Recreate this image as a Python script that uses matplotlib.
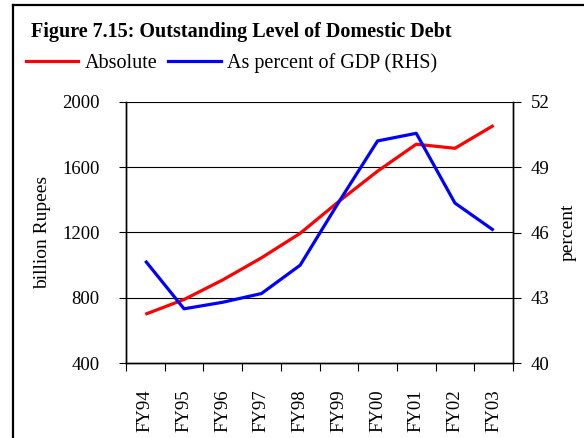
import matplotlib.pyplot as plt
import numpy as np
from matplotlib.lines import Line2D

years = ['FY94', 'FY95', 'FY96', 'FY97', 'FY98',
         'FY99', 'FY00', 'FY01', 'FY02', 'FY03']
absolute = [700, 790, 910, 1045, 1195, 1390, 1575, 1740, 1715, 1855]
pct_gdp = [44.7, 42.5, 42.8, 43.2, 44.5, 47.4, 50.2, 50.55, 47.35, 46.1]
left_ticks = [400, 800, 1200, 1600, 2000]
right_ticks = [40, 43, 46, 49, 52]

plt.rcParams['font.family'] = ['Liberation Serif', 'DejaVu Serif']

W, H = 584, 438
fig = plt.figure(figsize=(W / 100, H / 100), dpi=100)
ax = fig.add_axes([126 / W, 1 - 363.3 / H, 387 / W, 261.6 / H])
ax2 = ax.twinx()

x = np.arange(len(years)) + 0.5
ax.plot(x, absolute, color='#ff0000', lw=2.3, solid_capstyle='butt',
        label='Absolute')
ax2.plot(x, pct_gdp, color='#0000ff', lw=2.3, solid_capstyle='butt',
         label='As percent of GDP (RHS)')

ax.set_xlim(0, len(years))
ax.set_ylim(400, 2000)
ax2.set_ylim(40, 52)
ax.set_yticks(left_ticks)
ax2.set_yticks(right_ticks)
ax.set_xticks(np.arange(len(years) + 1))
ax.set_xticklabels([])
ax.set_xticks(x, minor=True)
ax.set_xticklabels(years, minor=True, rotation=90, fontsize=13.5)
ax.tick_params(axis='x', which='major', length=6, width=0.8, direction='out')
ax.tick_params(axis='x', which='minor', length=0, pad=19)
ax.tick_params(axis='y', length=5, width=0.8, labelsize=13.5, pad=14)
ax2.tick_params(axis='y', length=6, width=0.8, labelsize=13.5, pad=7)

for v in left_ticks[1:]:
    ax.axhline(v, color='black', lw=0.8, zorder=0)

for a in (ax, ax2):
    a.spines['top'].set_visible(False)
    for s in ('left', 'right', 'bottom'):
        a.spines[s].set_linewidth(1.0)

ax.set_ylabel('billion Rupees', fontsize=14, labelpad=8)
ax2.set_ylabel('percent', fontsize=14, labelpad=7)

fig.text(31 / W, 1 - 37.5 / H, 'Figure 7.15: Outstanding Level of Domestic Debt',
         fontsize=14.5, fontweight='bold', va='baseline', ha='left')

handles = [Line2D([], [], color='#ff0000', lw=2.3),
           Line2D([], [], color='#0000ff', lw=2.3)]
fig.legend(handles, ['Absolute', 'As percent of GDP (RHS)'],
           loc='center left', bbox_to_anchor=(26 / W, 1 - 63 / H),
           ncol=2, frameon=False, fontsize=14.5, handlelength=2.6,
           handletextpad=0.3, columnspacing=0.55, borderpad=0, borderaxespad=0)

# outer frame of the figure box
fig.add_artist(Line2D([13 / W, 13 / W], [0, 1 - 5 / H], color='black', lw=1.6))
fig.add_artist(Line2D([13 / W, 1], [1 - 5 / H, 1 - 5 / H], color='black', lw=1.6))

fig.savefig('out.png', dpi=100)
